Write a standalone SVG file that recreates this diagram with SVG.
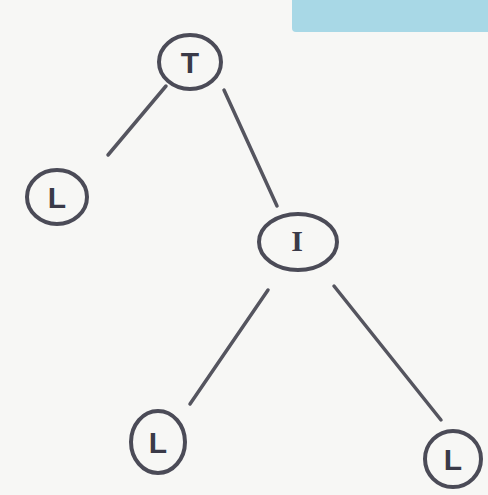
<svg xmlns="http://www.w3.org/2000/svg" width="488" height="495" viewBox="0 0 488 495">
<style>
.n{fill:none;stroke:#4b4b57;stroke-width:4}
.e{fill:none;stroke:#55555f;stroke-width:3.5;stroke-linecap:round}
.t{font-family:"Liberation Sans",Arial,sans-serif;font-size:30px;font-weight:bold;fill:#3a3a48;text-anchor:middle;dominant-baseline:central}
</style>
<rect width="488" height="495" fill="#f7f7f5"/>
<rect x="292" y="-6" width="204" height="38" rx="4" fill="#a8d8e6"/>
<g id="edges">
<line class="e" x1="166" y1="86" x2="108" y2="155"/>
<line class="e" x1="224" y1="90" x2="277" y2="206"/>
<line class="e" x1="268" y1="290" x2="190" y2="404"/>
<line class="e" x1="334" y1="286" x2="441" y2="420"/>
</g>
<g id="nodeT"><ellipse class="n" cx="190" cy="62" rx="31" ry="27"/><text class="t" x="190" y="62">T</text></g>
<g id="nodeL1"><ellipse class="n" cx="57" cy="197" rx="30" ry="27"/><text class="t" x="57" y="197" font-size="24">L</text></g>
<g id="nodeI"><ellipse class="n" cx="298" cy="242" rx="39" ry="28"/><text class="t" x="297" y="240" style="font-family:'Liberation Serif',serif">I</text></g>
<g id="nodeL2"><ellipse class="n" cx="158" cy="442" rx="27" ry="31"/><text class="t" x="158" y="442" font-size="26">L</text></g>
<g id="nodeL3"><ellipse class="n" cx="453" cy="459" rx="28" ry="28"/><text class="t" x="453" y="459" font-size="26">L</text></g>
</svg>
